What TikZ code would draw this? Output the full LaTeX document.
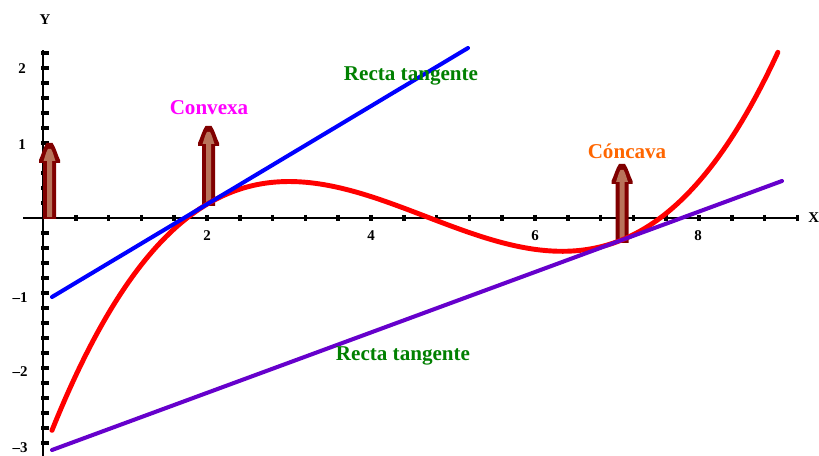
\documentclass[tikz,border=0pt]{standalone}
\usepackage{fontspec}
\setmainfont{Liberation Serif}
\definecolor{adark}{RGB}{128,0,0}
\definecolor{alight}{RGB}{185,115,90}
\definecolor{tgreen}{RGB}{0,128,0}
\definecolor{tpurple}{RGB}{102,0,204}
\definecolor{torange}{RGB}{255,102,0}
\definecolor{tmagenta}{RGB}{255,0,255}
\tikzset{
  axisline/.style={line width=1.1pt, black},
  tickmark/.style={line width=2pt, black},
  lbl/.style={font=\fontsize{12}{14}\selectfont\bfseries, inner sep=0pt},
  ticklbl/.style={font=\fontsize{8.5}{10}\selectfont\bfseries, inner sep=0pt},
  redcurve/.style={line width=2.8pt, red, line cap=round},
  bluecurve/.style={line width=2.3pt, blue, line cap=round},
  purplecurve/.style={line width=2.3pt, tpurple, line cap=round},
  brownarrow/.pic={
    \fill[adark] (-6.5,#1) -- (-6.5,0) -- (-10.5,0) -- (-10.5,-3)
      .. controls (-8,-8) and (-6,-16) .. (-3,-20) -- (3,-20)
      .. controls (6,-16) and (8,-8) .. (10.5,-3) -- (10.5,0) -- (6.5,0) -- (6.5,#1) -- cycle;
    \fill[alight] (-2.5,#1-2) -- (-2.5,-2) -- (-6,-2)
      .. controls (-4.5,-6) and (-3.5,-11) .. (-1.5,-14) -- (1.5,-14)
      .. controls (3.5,-11) and (4.5,-6) .. (6,-2) -- (2.5,-2) -- (2.5,#1-2) -- cycle;
  }
}
\begin{document}
\begin{tikzpicture}[x=0.02cm,y=-0.02cm]
\useasboundingbox (0,0) rectangle (819,456);
\fill[white] (0,0) rectangle (819,456);
% axes
\coordinate (xs) at (23,218);
\coordinate (xe) at (797,218);
\coordinate (ys) at (43,456);
\coordinate (ye) at (43,50);
\draw[axisline] (xs) -- (xe);
\draw[axisline] (ys) -- (ye);
\foreach \k in {1,...,23} \draw[tickmark] ({43+32.8*\k},215) -- ({43+32.8*\k},221);
\foreach \k in {-15,...,-1,1,2,...,11} \draw[tickmark] (41,{218-15*\k}) -- (49,{218-15*\k});
% axis labels
\node[ticklbl] (ylab) at (45,20) {Y};
\node[ticklbl, anchor=west] (xlab) at (808,218) {X};
\node[ticklbl] (y2) at (22,69) {2};
\node[ticklbl] (y1) at (22,145) {1};
\node[ticklbl] (ym1) at (20,298) {--1};
\node[ticklbl] (ym2) at (20,372) {--2};
\node[ticklbl] (ym3) at (20,448) {--3};
\node[ticklbl] (x2) at (207,236) {2};
\node[ticklbl] (x4) at (371,236) {4};
\node[ticklbl] (x6) at (535,236) {6};
\node[ticklbl] (x8) at (698,236) {8};
% arrows
\pic at (49.5,163) {brownarrow=56};
\pic at (208.5,146) {brownarrow=60};
\pic at (622,184) {brownarrow=59};
% curve
\draw[redcurve] plot[domain=-1.55:5.71, samples=160, smooth]
  ({207+100*\x}, {204.2-59.86*\x+44.893*\x*\x-6.8434*\x*\x*\x});
% tangents
\coordinate (b1) at (52,297);
\coordinate (b2) at (468,48);
\coordinate (p1) at (52,450);
\coordinate (p2) at (782,181);
\draw[bluecurve] (b1) -- (b2);
\draw[purplecurve] (p1) -- (p2);
% texts
\node[lbl, text=tmagenta] (convexa) at (209,108) {Convexa};
\node[lbl, text=torange] (concava) at (627,151) {Cóncava};
\node[lbl, text=tgreen] (rt1) at (411,76) {Recta tangente};
\node[lbl, text=tgreen] (rt2) at (403,356) {Recta tangente};
\end{tikzpicture}
\end{document}
